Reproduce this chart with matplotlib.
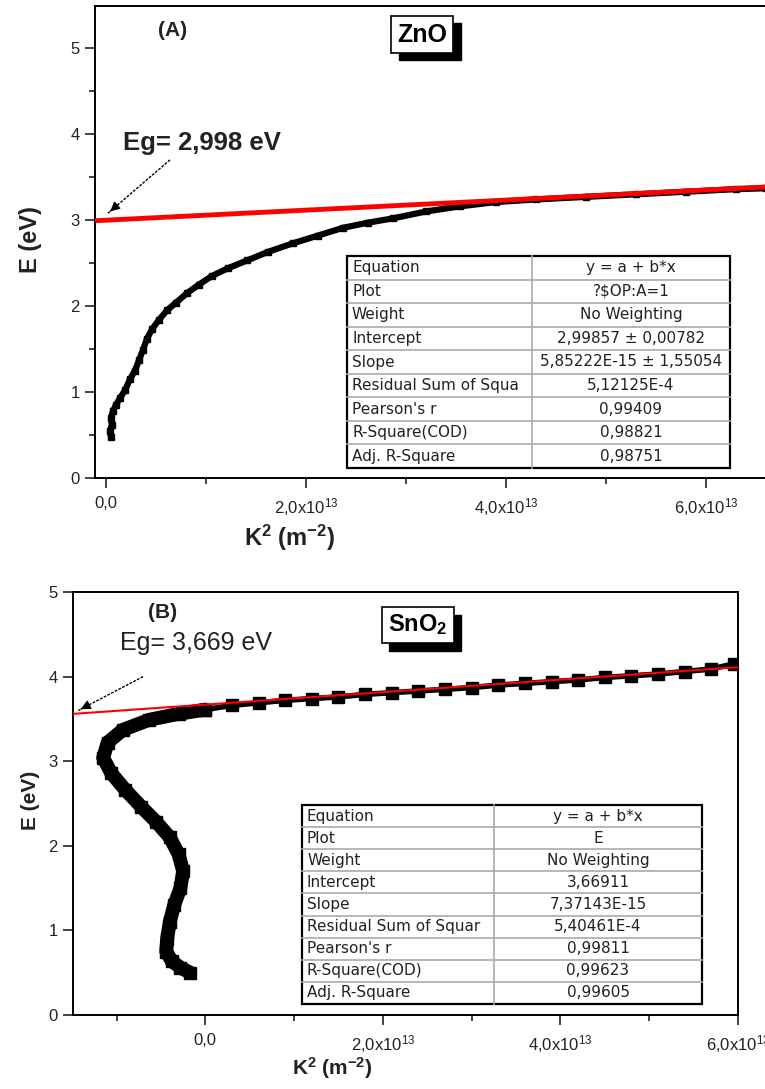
import numpy as np
import matplotlib
matplotlib.use('Agg')
import matplotlib.pyplot as plt
from matplotlib.patches import Rectangle
from matplotlib.lines import Line2D
from matplotlib.ticker import FixedLocator, MultipleLocator

plt.rcParams['font.family'] = ['Liberation Sans', 'DejaVu Sans']
plt.rcParams['mathtext.fontset'] = 'custom'
plt.rcParams['mathtext.rm'] = 'Liberation Sans'
plt.rcParams['mathtext.bf'] = 'Liberation Sans:bold'
plt.rcParams['mathtext.default'] = 'regular'

W, H = 765, 1089

# ---- data (K^2 in units of 1e13 m^-2, E in eV) ----
k2_zno = [0.05, 0.04, 0.06, 0.05, 0.07, 0.10, 0.14, 0.19, 0.24, 0.29, 0.33,
          0.37, 0.41, 0.46, 0.53, 0.61, 0.70, 0.81, 0.93, 1.06, 1.22, 1.41,
          1.62, 1.87, 2.12, 2.37, 2.62, 2.87, 3.20, 3.54, 3.90, 4.30, 4.80,
          5.30, 5.80, 6.30, 6.60]
e_zno = [0.48, 0.55, 0.62, 0.70, 0.78, 0.85, 0.93, 1.02, 1.15, 1.25, 1.37,
         1.49, 1.62, 1.73, 1.84, 1.95, 2.04, 2.15, 2.25, 2.35, 2.44, 2.53,
         2.63, 2.73, 2.82, 2.91, 2.97, 3.02, 3.10, 3.16, 3.21, 3.24, 3.27,
         3.30, 3.33, 3.36, 3.37]

k2_sno2 = [-0.17, -0.28, -0.38, -0.44, -0.43, -0.40, -0.35, -0.28, -0.25,
           -0.30, -0.40, -0.55, -0.72, -0.90, -1.06, -1.15, -1.10, -0.93,
           -0.63, -0.30, 0.00, 0.30, 0.60, 0.90, 1.20, 1.50, 1.80, 2.10,
           2.40, 2.70, 3.00, 3.30, 3.60, 3.90, 4.20, 4.50, 4.80, 5.10, 5.40,
           5.70, 5.95]
e_sno2 = [0.50, 0.56, 0.64, 0.75, 0.90, 1.10, 1.30, 1.50, 1.70,
          1.90, 2.10, 2.28, 2.46, 2.66, 2.86, 3.04, 3.22, 3.37,
          3.49, 3.56, 3.61, 3.66, 3.69, 3.72, 3.74, 3.76, 3.79, 3.81,
          3.83, 3.85, 3.87, 3.90, 3.92, 3.94, 3.96, 3.99, 4.01, 4.03, 4.06,
          4.09, 4.15]

fit_zno = (2.99857, 5.85222e-15)
fit_sno2 = (3.66911, 7.37143e-15)

rows_zno = ['Equation', 'Plot', 'Weight', 'Intercept', 'Slope',
            'Residual Sum of Squa', "Pearson's r", 'R-Square(COD)', 'Adj. R-Square']
vals_zno = ['y = a + b*x', '?$OP:A=1', 'No Weighting', '2,99857 \u00b1 0,00782',
            '5,85222E-15 \u00b1 1,55054', '5,12125E-4', '0,99409', '0,98821', '0,98751']
rows_sno2 = ['Equation', 'Plot', 'Weight', 'Intercept', 'Slope',
             'Residual Sum of Squar', "Pearson's r", 'R-Square(COD)', 'Adj. R-Square']
vals_sno2 = ['y = a + b*x', 'E', 'No Weighting', '3,66911', '7,37143E-15',
             '5,40461E-4', '0,99811', '0,99623', '0,99605']

xticks = [0, 2e13, 4e13, 6e13]
xticklabels = ['0,0', r'2,0x10$^{13}$', r'4,0x10$^{13}$', r'6,0x10$^{13}$']


def fx(x):
    return x / W


def fy(y):
    return 1 - y / H


def style_axes(ax, yminor):
    for s in ax.spines.values():
        s.set_linewidth(1.4)
    ax.xaxis.set_major_locator(FixedLocator(xticks))
    ax.set_xticklabels(xticklabels)
    ax.xaxis.set_minor_locator(MultipleLocator(1e13))
    ax.yaxis.set_major_locator(MultipleLocator(1))
    if yminor:
        ax.yaxis.set_minor_locator(MultipleLocator(0.5))
    ax.tick_params(which='both', direction='out', width=1.2, colors='#222',
                   top=False, right=False)
    ax.tick_params(which='major', length=7)
    ax.tick_params(which='minor', length=4)
    ax.tick_params(axis='y', labelsize=12, pad=4)
    ax.tick_params(axis='x', labelsize=12, pad=6)


def draw_table(fig, x0, x1, xdiv, y0, y1, labels, values, fs):
    n = len(labels)
    rh = (y1 - y0) / n
    for i in range(1, n):
        yy = y0 + i * rh
        fig.add_artist(Line2D([fx(x0), fx(x1)], [fy(yy), fy(yy)],
                              color='#aaaaaa', lw=1.2))
    fig.add_artist(Line2D([fx(xdiv), fx(xdiv)], [fy(y0), fy(y1)],
                          color='#aaaaaa', lw=1.2))
    fig.add_artist(Rectangle((fx(x0), fy(y1)), fx(x1) - fx(x0), fy(y0) - fy(y1),
                             fill=False, ec='black', lw=1.6))
    for i, (lab, val) in enumerate(zip(labels, values)):
        yc = y0 + (i + 0.5) * rh
        fig.text(fx(x0 + 5), fy(yc), lab, ha='left', va='center',
                 fontsize=fs, color='#222', family=['DejaVu Sans'])
        fig.text(fx((xdiv + x1) / 2), fy(yc), val, ha='center', va='center',
                 fontsize=fs, color='#222', family=['DejaVu Sans'])


def shadow_box(fig, x0, y0, x1, y1, dx, dy, label, fs):
    fig.add_artist(Rectangle((fx(x0 + dx), fy(y1 + dy)), fx(x1) - fx(x0),
                             fy(y0) - fy(y1), fc='black', ec='black', lw=1))
    fig.add_artist(Rectangle((fx(x0), fy(y1)), fx(x1) - fx(x0),
                             fy(y0) - fy(y1), fc='white', ec='black', lw=1.2))
    fig.text(fx((x0 + x1) / 2), fy((y0 + y1) / 2), label, ha='center',
             va='center', fontsize=fs, fontweight='bold')


def dashed_arrow(ax, start, end):
    ax.plot([start[0], end[0]], [start[1], end[1]], color='black', lw=1,
            ls=(0, (2, 1)))
    ax.annotate('', xy=end,
                xytext=(end[0] + 0.08 * (start[0] - end[0]),
                        end[1] + 0.08 * (start[1] - end[1])),
                arrowprops=dict(arrowstyle='-|>', color='black', lw=1,
                                mutation_scale=14))


fig = plt.figure(figsize=(W / 100, H / 100), dpi=100)

# ---------------- panel A : ZnO ----------------
ax1 = fig.add_axes([fx(95), fy(478), fx(765) - fx(95), fy(6) - fy(478)])
ax1.set_xlim(-0.11e13, 6.59e13)
ax1.set_ylim(0, 5.49)
ax1.spines['right'].set_visible(False)
style_axes(ax1, True)
xs = np.array(ax1.get_xlim())
ax1.plot(np.array(k2_zno) * 1e13, e_zno, color='black', lw=4.5, marker='s',
         ms=4, zorder=3)
ax1.plot(xs, fit_zno[0] + fit_zno[1] * xs, color='red', lw=3.5, zorder=4)
dashed_arrow(ax1, (0.64e13, 3.70), (0.02e13, 3.08))

fig.text(fx(173), fy(30), '(A)', ha='center', va='center', fontsize=15,
         fontweight='bold', color='#222')
fig.text(fx(123), fy(143), 'Eg= 2,998 eV', ha='left', va='center',
         fontsize=18.5, fontweight='bold', color='#222')
shadow_box(fig, 391, 16, 453, 53, 8, 7, 'ZnO', 18)
fig.text(fx(30), fy(240), 'E (eV)', rotation=90, ha='center', va='center',
         fontsize=17, fontweight='bold', color='#222')
fig.text(fx(290), fy(538), r'K$^{\mathbf{2}}$ (m$^{\mathbf{-2}}$)', ha='center',
         va='center', fontsize=17, fontweight='bold', color='#222')
draw_table(fig, 347, 730, 532, 256, 468, rows_zno, vals_zno, 11)

# ---------------- panel B : SnO2 ----------------
ax2 = fig.add_axes([fx(73), fy(1015), fx(738) - fx(73), fy(592) - fy(1015)])
ax2.set_xlim(-1.49e13, 6.0e13)
ax2.set_ylim(0, 5)
style_axes(ax2, False)
xs = np.array(ax2.get_xlim())
k2b = np.array(k2_sno2) * 1e13
n_left = 21  # dense, continuous part of the curve (K^2 <= 0)
ax2.plot(k2b[:n_left], e_sno2[:n_left], color='black', lw=10, marker='s',
         ms=8, zorder=3, solid_joinstyle='round', solid_capstyle='round')
ax2.plot(k2b[n_left - 1:], e_sno2[n_left - 1:], color='black', lw=4,
         marker='s', ms=8, zorder=3)
ax2.plot(xs, fit_sno2[0] + fit_sno2[1] * xs, color='red', lw=1.5, zorder=4)
dashed_arrow(ax2, (-0.70e13, 4.0), (-1.43e13, 3.60))

fig.text(fx(163), fy(613), '(B)', ha='center', va='center', fontsize=15,
         fontweight='bold', color='#222')
fig.text(fx(120), fy(643), 'Eg= 3,669 eV', ha='left', va='center',
         fontsize=18, color='#222')
shadow_box(fig, 382, 607, 454, 643, 7, 8, r'SnO$_{\mathbf{2}}$', 17)
fig.text(fx(30), fy(800), 'E (eV)', rotation=90, ha='center', va='center',
         fontsize=15, fontweight='bold', color='#222')
fig.text(fx(332), fy(1068), r'K$^{\mathbf{2}}$ (m$^{\mathbf{-2}}$)', ha='center',
         va='center', fontsize=15, fontweight='bold', color='#222')
draw_table(fig, 302, 702, 494, 805, 1004, rows_sno2, vals_sno2, 11)

fig.savefig('out.png', dpi=100)
